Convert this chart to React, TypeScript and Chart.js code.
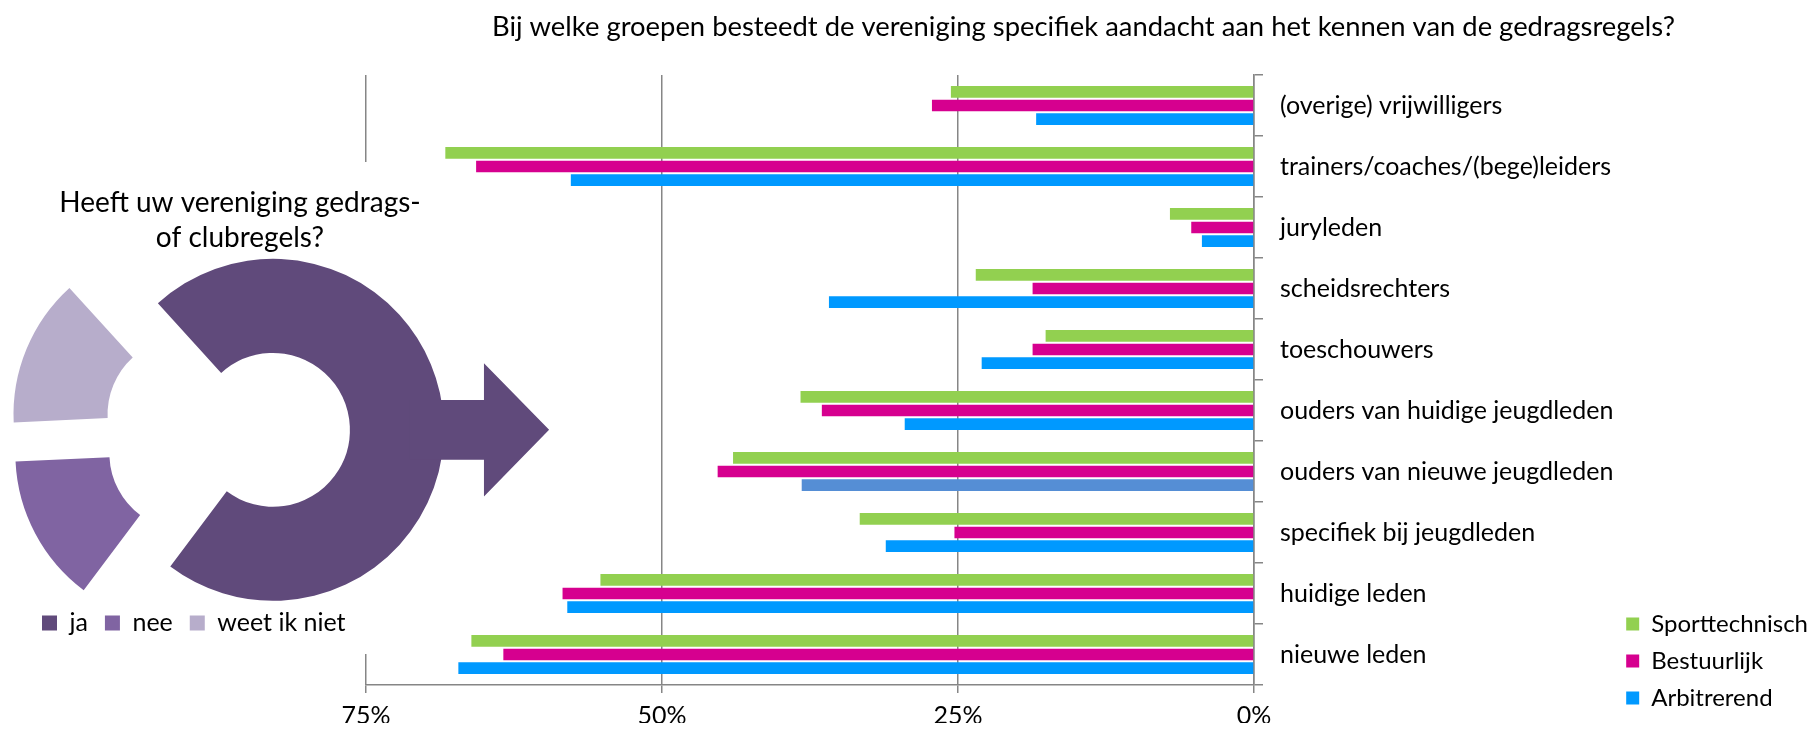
import React, { useEffect, useRef } from 'react';
import { Chart, registerables, layouts } from 'chart.js';

Chart.register(...registerables);

// ---------- data ----------
const barTitle =
  'Bij welke groepen besteedt de vereniging specifiek aandacht aan het kennen van de gedragsregels?';
const categories = [
  '(overige) vrijwilligers',
  'trainers/coaches/(bege)leiders',
  'juryleden',
  'scheidsrechters',
  'toeschouwers',
  'ouders van huidige jeugdleden',
  'ouders van nieuwe jeugdleden',
  'specifiek bij jeugdleden',
  'huidige leden',
  'nieuwe leden',
];
const seriesNames = ['Sporttechnisch', 'Bestuurlijk', 'Arbitrerend'];
const sporttechnisch = [25.6, 68.3, 7.1, 23.5, 17.6, 38.3, 44.0, 33.3, 55.2, 66.1];
const bestuurlijk = [27.2, 65.7, 5.3, 18.7, 18.7, 36.5, 45.3, 25.3, 58.4, 63.4];
const arbitrerend = [18.4, 57.7, 4.4, 35.9, 23.0, 29.5, 38.2, 31.1, 58.0, 67.2];
const xTickValues = [0, 25, 50, 75];

const doughnutTitle = ['Heeft uw vereniging gedrags-', 'of clubregels?'];
const doughnutLabels = ['ja', 'nee', 'weet ik niet'];
const doughnutValues = [72, 14, 14];

// ---------- styles ----------
const FONT = "Lato, 'Open Sans', sans-serif";
const TEXT = '#000000';
const AXIS = '#868686';
const GREEN = '#92D050';
const PINK = '#D6008F';
const BLUE = '#0099FF';
const BLUE_ALT = '#558ED5';
const altBlueIndex = categories.indexOf('ouders van nieuwe jeugdleden');
const DOUGHNUT_COLORS = ['#604A7B', '#8064A2', '#B7ADCB'];

Chart.defaults.font.family = FONT;

// empty layout box used to shift the plot area without moving titles/legends
function spacer(id: string, position: string, size: number) {
  return {
    id,
    beforeInit(chart: any) {
      const box: any = {
        position,
        weight: -10,
        fullSize: false,
        options: {},
        width: 0,
        height: 0,
        left: 0,
        top: 0,
        right: 0,
        bottom: 0,
        isHorizontal() {
          return position === 'top' || position === 'bottom';
        },
        update(maxWidth: number, maxHeight: number) {
          if (this.isHorizontal()) {
            this.width = maxWidth;
            this.height = size;
          } else {
            this.width = size;
            this.height = maxHeight;
          }
        },
        draw() {},
      };
      layouts.addBox(chart, box);
    },
  };
}

const whiteBoxPlugin = {
  id: 'whiteBox',
  beforeDraw(chart: any, _args: any, opts: any) {
    const ctx = chart.ctx;
    ctx.save();
    ctx.fillStyle = '#ffffff';
    ctx.fillRect(0, 0, opts.width, chart.height);
    ctx.restore();
  },
};

const explodePlugin = {
  id: 'explode',
  beforeDatasetsDraw(chart: any, _args: any, opts: any) {
    const meta = chart.getDatasetMeta(0);
    meta.data.forEach((arc: any) => {
      if (arc.__exploded) return;
      const orig = arc.draw;
      arc.draw = function (ctx: CanvasRenderingContext2D, area: any) {
        const mid = (this.startAngle + this.endAngle) / 2;
        ctx.save();
        ctx.translate(Math.cos(mid) * opts.distance, Math.sin(mid) * opts.distance);
        orig.call(this, ctx, area);
        ctx.restore();
      };
      arc.__exploded = true;
    });
  },
  afterDatasetsDraw(chart: any, _args: any, opts: any) {
    // arrow leaving the "ja" segment
    const arc: any = chart.getDatasetMeta(0).data[0];
    if (!arc) return;
    const mid = (arc.startAngle + arc.endAngle) / 2;
    const cx = arc.x + Math.cos(mid) * opts.distance;
    const cy = arc.y + Math.sin(mid) * opts.distance;
    const R = arc.outerRadius;
    const ctx = chart.ctx;
    ctx.save();
    ctx.fillStyle = arc.options.backgroundColor;
    ctx.beginPath();
    ctx.moveTo(cx + 0.8 * R, cy - 0.175 * R);
    ctx.lineTo(cx + 1.234 * R, cy - 0.175 * R);
    ctx.lineTo(cx + 1.234 * R, cy - 0.39 * R);
    ctx.lineTo(cx + 1.615 * R, cy);
    ctx.lineTo(cx + 1.234 * R, cy + 0.39 * R);
    ctx.lineTo(cx + 1.234 * R, cy + 0.175 * R);
    ctx.lineTo(cx + 0.8 * R, cy + 0.175 * R);
    ctx.closePath();
    ctx.fill();
    ctx.restore();
  },
};

const BAR_W = 1478;
const BAR_H = 729;
const PLOT_RIGHT = 914;

export default function App() {
  const barRef = useRef<HTMLCanvasElement | null>(null);
  const dRef = useRef<HTMLCanvasElement | null>(null);

  useEffect(() => {
    const font = { family: FONT, size: 25 };
    const bar = new Chart(barRef.current as HTMLCanvasElement, {
      type: 'bar',
      data: {
        labels: categories,
        datasets: [
          { label: seriesNames[0], data: sporttechnisch, backgroundColor: GREEN },
          { label: seriesNames[1], data: bestuurlijk, backgroundColor: PINK },
          {
            label: seriesNames[2],
            data: arbitrerend,
            backgroundColor: (c: any) => (c.dataIndex === altBlueIndex ? BLUE_ALT : BLUE),
          },
        ],
      },
      options: {
        responsive: false,
        animation: false,
        indexAxis: 'y',
        layout: { padding: { left: 9, right: 0, top: 0, bottom: 6 } },
        datasets: { bar: { categoryPercentage: 0.674, barPercentage: 0.854 } },
        plugins: {
          title: {
            display: true,
            text: barTitle,
            color: TEXT,
            font: { family: FONT, size: 27.4, weight: 'normal', lineHeight: 1.2 },
            padding: { top: 10.5, bottom: 31.6 },
          },
          legend: {
            position: 'right',
            align: 'end',
            labels: {
              boxWidth: 13,
              boxHeight: 13,
              padding: 13,
              color: TEXT,
              font: { family: FONT, size: 24 },
            },
          },
          tooltip: { enabled: false },
        },
        scales: {
          x: {
            type: 'linear',
            reverse: true,
            min: 0,
            max: 75,
            afterBuildTicks: (s: any) => {
              s.ticks = xTickValues.map((v) => ({ value: v }));
            },
            afterFit: (s: any) => {
              s.height = 38;
            },
            ticks: { color: TEXT, font, padding: 8, callback: (v: any) => v + '%' },
            grid: { color: AXIS, lineWidth: 1.5, tickLength: 8 },
            border: { color: AXIS, width: 1.5 },
          },
          y: {
            position: 'right',
            afterFit: (s: any) => {
              const lw = s.chart.legend ? s.chart.legend.width : 210;
              s.width = BAR_W - lw - PLOT_RIGHT;
              // let long category labels run past the axis box (no clipping)
              s._computeLabelArea = () => undefined;
            },
            ticks: { color: TEXT, font, padding: 17, crossAlign: 'near' },
            grid: { drawOnChartArea: false, tickLength: 9, color: AXIS, lineWidth: 1.5, offset: true },
            border: { color: AXIS, width: 1.5 },
          },
        },
      } as any,
      plugins: [spacer('barSpacer', 'left', 17) as any],
    });

    const dough = new Chart(dRef.current as HTMLCanvasElement, {
      type: 'doughnut',
      data: {
        labels: doughnutLabels,
        datasets: [{ data: doughnutValues, backgroundColor: DOUGHNUT_COLORS, borderWidth: 0 }],
      },
      options: {
        responsive: false,
        animation: false,
        rotation: -42.3,
        cutout: '45%',
        radius: 171,
        layout: { padding: { left: 105, right: 105, top: 0, bottom: 8.5 } },
        plugins: {
          title: {
            display: true,
            text: doughnutTitle,
            color: TEXT,
            font: { family: FONT, size: 28, weight: 'normal', lineHeight: 1.25 },
            padding: { top: 23.5, bottom: 15 },
          },
          legend: {
            position: 'bottom',
            align: 'start',
            labels: { boxWidth: 15, boxHeight: 15, padding: 17, color: TEXT, font },
          },
          tooltip: { enabled: false },
          explode: { distance: 46 },
          whiteBox: { width: 540 },
        },
      } as any,
      plugins: [spacer('dSpacer', 'right', 26) as any, whiteBoxPlugin as any, explodePlugin as any],
    });

    return () => {
      bar.destroy();
      dough.destroy();
    };
  }, []);

  return (
    <div
      style={{
        position: 'fixed',
        left: 0,
        top: 0,
        width: 1812,
        height: 729,
        overflow: 'hidden',
        background: '#ffffff',
      }}
    >
      <canvas
        ref={barRef}
        width={BAR_W}
        height={BAR_H}
        style={{ position: 'absolute', left: 340, top: 0, width: BAR_W, height: BAR_H }}
      />
      <canvas
        ref={dRef}
        width={640}
        height={492}
        style={{ position: 'absolute', left: -80, top: 162, width: 640, height: 492 }}
      />
    </div>
  );
}
